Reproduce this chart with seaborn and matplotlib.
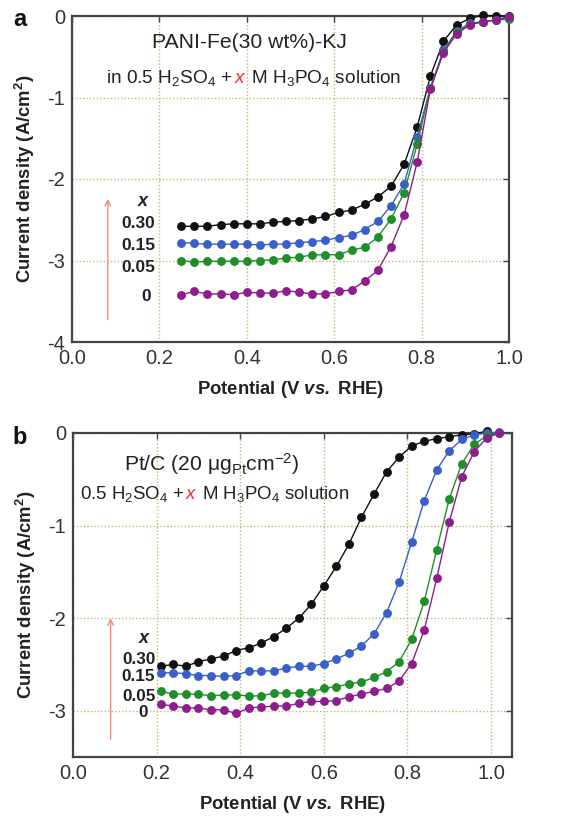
import matplotlib
matplotlib.use("Agg")
import matplotlib.pyplot as plt
import seaborn as sns
import pandas as pd
from matplotlib.ticker import FormatStrFormatter
from matplotlib.transforms import offset_copy

# ---------------- data ----------------
# Panel a: PANI-Fe(30 wt%)-KJ
pot_a = [0.25, 0.28, 0.31, 0.34, 0.37, 0.40, 0.43, 0.46, 0.49, 0.52, 0.55, 0.58, 0.61,
         0.64, 0.67, 0.70, 0.73, 0.76, 0.79, 0.82, 0.85, 0.88, 0.91, 0.94, 0.97, 1.00]
a_030 = [-2.58, -2.58, -2.58, -2.56, -2.55, -2.55, -2.55, -2.53, -2.52, -2.51, -2.49, -2.46, -2.41,
         -2.38, -2.31, -2.22, -2.09, -1.82, -1.36, -0.74, -0.31, -0.11, -0.03, 0.01, 0.00, 0.00]
a_015 = [-2.78, -2.79, -2.80, -2.80, -2.80, -2.80, -2.81, -2.80, -2.80, -2.78, -2.77, -2.75, -2.72,
         -2.69, -2.62, -2.52, -2.33, -2.06, -1.48, -0.88, -0.42, -0.19, -0.09, -0.07, -0.05, -0.01]
a_005 = [-3.00, -3.02, -3.01, -3.01, -3.01, -3.01, -3.00, -2.99, -2.97, -2.96, -2.93, -2.93, -2.93,
         -2.87, -2.84, -2.71, -2.49, -2.17, -1.57, -0.88, -0.44, -0.20, -0.10, -0.07, -0.05, -0.04]
a_000 = [-3.42, -3.38, -3.41, -3.41, -3.42, -3.39, -3.40, -3.40, -3.37, -3.39, -3.41, -3.41, -3.38,
         -3.36, -3.25, -3.12, -2.83, -2.44, -1.79, -0.90, -0.45, -0.22, -0.11, -0.07, -0.05, -0.01]

# Panel b: Pt/C
pot_b = [0.21, 0.24, 0.27, 0.30, 0.33, 0.36, 0.39, 0.42, 0.45, 0.48, 0.51, 0.54, 0.57, 0.60,
         0.63, 0.66, 0.69, 0.72, 0.75, 0.78, 0.81, 0.84, 0.87, 0.90, 0.93, 0.96, 0.99, 1.02]
b_030 = [-2.52, -2.50, -2.52, -2.47, -2.44, -2.41, -2.35, -2.32, -2.27, -2.20, -2.11, -2.00, -1.85, -1.65,
         -1.44, -1.20, -0.91, -0.66, -0.42, -0.26, -0.14, -0.09, -0.06, -0.04, -0.02, -0.01, 0.02]
b_015 = [-2.59, -2.59, -2.60, -2.62, -2.62, -2.63, -2.62, -2.57, -2.57, -2.57, -2.54, -2.52, -2.52, -2.49,
         -2.44, -2.38, -2.30, -2.17, -1.94, -1.61, -1.18, -0.73, -0.40, -0.19, -0.07, -0.02, 0.00, 0.01]
b_005 = [-2.79, -2.82, -2.82, -2.82, -2.84, -2.83, -2.83, -2.84, -2.84, -2.81, -2.81, -2.81, -2.80, -2.76,
         -2.74, -2.71, -2.69, -2.64, -2.58, -2.47, -2.23, -1.82, -1.26, -0.71, -0.33, -0.12, -0.03, 0.00]
b_000 = [-2.93, -2.95, -2.97, -2.97, -2.99, -2.99, -3.03, -2.97, -2.96, -2.95, -2.95, -2.92, -2.90, -2.90,
         -2.89, -2.85, -2.82, -2.79, -2.76, -2.68, -2.49, -2.13, -1.57, -0.96, -0.47, -0.20, -0.05, 0.00]

conc_labels = ["0.30", "0.15", "0.05", "0"]
colors = ["#111111", "#3b5fc8", "#1f8f2a", "#8e1d8e"]

x_ticks = [0.0, 0.2, 0.4, 0.6, 0.8, 1.0]

# ---------------- style ----------------
sns.set_style("white")
plt.rcParams["font.family"] = ["Liberation Sans", "DejaVu Sans"]
plt.rcParams["mathtext.fontset"] = "custom"
plt.rcParams["mathtext.rm"] = "Liberation Sans"
plt.rcParams["mathtext.it"] = "Liberation Sans:italic"
plt.rcParams["mathtext.bf"] = "Liberation Sans:bold"
plt.rcParams["mathtext.bfit"] = "Liberation Sans:bold:italic"
plt.rcParams["axes.unicode_minus"] = False

fig = plt.figure(figsize=(5.61, 8.16), dpi=100)
ax_a = fig.add_axes([72 / 561, 1 - 342 / 816, 437 / 561, 326 / 816])
ax_b = fig.add_axes([73 / 561, 1 - 757 / 816, 439 / 561, 324 / 816])

GRID = "#b9bd72"
SPINE = "#444444"
TICKC = "#333333"
TXT = "#222222"


def draw_series(ax, xs, ys_list):
    for ys, col in zip(ys_list, colors):
        df = pd.DataFrame({"pot": xs[:len(ys)], "j": ys})
        sns.lineplot(data=df, x="pot", y="j", ax=ax, color=col, lw=1.0,
                     marker="o", markersize=6.4, markeredgewidth=0,
                     sort=False, estimator=None, clip_on=False, zorder=3)


def style_axes(ax, xlim, ylim, yticks):
    ax.set_xlim(*xlim)
    ax.set_ylim(*ylim)
    ax.set_xticks(x_ticks)
    ax.set_yticks(yticks)
    ax.xaxis.set_major_formatter(FormatStrFormatter("%.1f"))
    ax.yaxis.set_major_formatter(FormatStrFormatter("%d"))
    ax.grid(True, color=GRID, linestyle=(0, (1, 1.5)), linewidth=1.0, zorder=0)
    for s in ax.spines.values():
        s.set_color(SPINE)
        s.set_linewidth(1.6)
    ax.tick_params(axis="both", which="both", direction="in", length=4, width=1.0,
                   color=SPINE, labelsize=14.5, labelcolor=TICKC,
                   top=True, right=True)
    ax.tick_params(axis="x", pad=5)
    ax.tick_params(axis="y", pad=5)
    ax.set_xlabel(r"Potential (V $\mathbfit{vs.}$ RHE)", fontsize=13.3,
                  fontweight="bold", color=TXT, labelpad=8)
    ax.set_ylabel(r"Current density (A/cm$\mathbf{^2}$)", fontsize=13.3,
                  fontweight="bold", color=TXT, labelpad=7)
    ax.set_axisbelow(True)


def colored_line(ax, x, y, pieces, fontsize):
    """Draw text made of (string, color) pieces on one baseline, starting at axes (x, y)."""
    fig.canvas.draw()
    renderer = fig.canvas.get_renderer()
    offset = 0.0
    for s, c in pieces:
        tr = offset_copy(ax.transAxes, fig=fig, x=offset, y=0, units="points")
        t = ax.text(x, y, s, transform=tr, fontsize=fontsize, color=c,
                    ha="left", va="baseline")
        bb = t.get_window_extent(renderer=renderer)
        offset += bb.width * 72.0 / fig.dpi


# ---------------- panel a ----------------
draw_series(ax_a, pot_a, [a_030, a_015, a_005, a_000])
style_axes(ax_a, (0.0, 1.0), (-4.0, 0.0), [0, -1, -2, -3, -4])

ax_a.text(0.407, 0.92, "PANI-Fe(30 wt%)-KJ", transform=ax_a.transAxes, fontsize=15.2,
          ha="center", va="center", color=TXT)
colored_line(ax_a, 0.078, 0.795,
             [(r"in 0.5 H$_2$SO$_4$ + ", TXT), (r"$x$", "#e8322d"),
              (r" M H$_3$PO$_4$ solution", TXT)], 13.7)

# concentration labels
lab_pos_a = [(0.19, -2.55), (0.19, -2.82), (0.19, -3.09), (0.18, -3.44)]
ax_a.text(0.162, -2.27, "x", fontsize=13, fontweight="bold", style="italic",
          ha="center", va="center", color=TXT)
for (lx, ly), lab in zip(lab_pos_a, conc_labels):
    ax_a.text(lx, ly, lab, fontsize=12.5, fontweight="bold", ha="right",
              va="center", color=TXT)
ax_a.annotate("", xy=(0.082, -2.21), xytext=(0.082, -3.76),
              arrowprops=dict(arrowstyle="->", color="#f28a80", lw=1.0,
                              mutation_scale=10))

# ---------------- panel b ----------------
draw_series(ax_b, pot_b, [b_030, b_015, b_005, b_000])
style_axes(ax_b, (0.0, 1.05), (-3.5, 0.0), [0, -1, -2, -3])

ax_b.text(0.315, 0.905, "Pt/C (20 \u03bcg$_{\\mathrm{Pt}}$cm$^{-2}$)",
          transform=ax_b.transAxes, fontsize=15.2, ha="center", va="center",
          color=TXT)
colored_line(ax_b, 0.017, 0.795,
             [(r"0.5 H$_2$SO$_4$ +", TXT), (r"$x$", "#e8322d"),
              (r" M H$_3$PO$_4$ solution", TXT)], 13.4)

lab_pos_b = [(0.197, -2.45), (0.197, -2.635), (0.197, -2.845), (0.18, -3.02)]
ax_b.text(0.17, -2.215, "x", fontsize=13, fontweight="bold", style="italic",
          ha="center", va="center", color=TXT)
for (lx, ly), lab in zip(lab_pos_b, conc_labels):
    ax_b.text(lx, ly, lab, fontsize=12.3, fontweight="bold", ha="right",
              va="center", color=TXT)
ax_b.annotate("", xy=(0.09, -1.97), xytext=(0.09, -3.34),
              arrowprops=dict(arrowstyle="->", color="#f28a80", lw=1.0,
                              mutation_scale=10))

# panel letters
fig.text(20 / 561, 1 - 20 / 816, "a", fontsize=17, fontweight="bold",
         ha="center", va="center", color="#111111")
fig.text(20 / 561, 1 - 437 / 816, "b", fontsize=17, fontweight="bold",
         ha="center", va="center", color="#111111")

fig.savefig("out.png", dpi=100)
